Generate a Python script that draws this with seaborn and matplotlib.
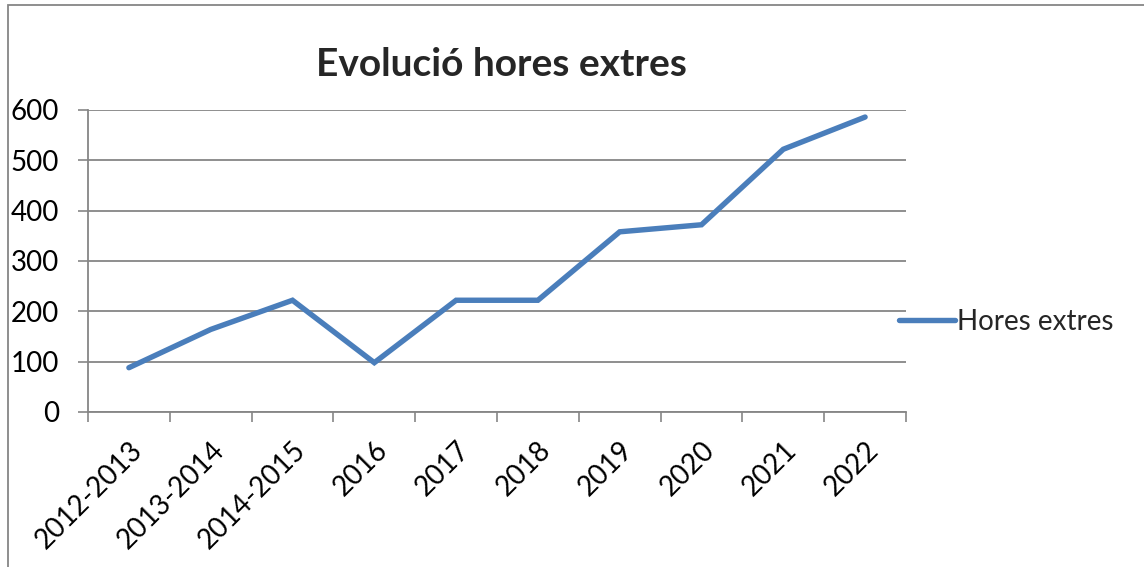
import numpy as np
import pandas as pd
import matplotlib.pyplot as plt
import seaborn as sns
from matplotlib.patches import Rectangle

# data
periods = ['2012-2013', '2013-2014', '2014-2015', '2016', '2017',
           '2018', '2019', '2020', '2021', '2022']
hores = [88, 164, 222, 98, 222, 222, 358, 372, 522, 586]
yticks = [0, 100, 200, 300, 400, 500, 600]

df = pd.DataFrame({'Periode': periods, 'Hores extres': hores})

sns.set_theme(style='white')
plt.rcParams['font.family'] = ['Lato', 'DejaVu Sans']

fig = plt.figure(figsize=(11.44, 5.67), dpi=100)
ax = fig.add_axes([88 / 1144, 1 - 412 / 567, (906 - 88) / 1144, (412 - 110) / 567])

grey = '#868686'
blue = '#4A7EBB'

sns.lineplot(data=df, x='Periode', y='Hores extres', ax=ax, color=blue,
             linewidth=3.9, sort=False, label='Hores extres',
             solid_capstyle='round', solid_joinstyle='miter')

ax.set_xlim(-0.5, len(periods) - 0.5)
ax.set_ylim(0, 600)
ax.set_yticks(yticks)
ax.set_yticklabels([str(v) for v in yticks], fontsize=20, color='black')
ax.set_xticks(range(len(periods)))
ax.set_xticklabels(periods, rotation=45, ha='right', rotation_mode='anchor',
                   fontsize=20, color='black')
ax.set_xticks(np.arange(-0.5, len(periods), 1.0), minor=True)
ax.tick_params(axis='x', which='major', length=0, pad=18)
ax.tick_params(axis='x', which='minor', length=7, width=1.2, color=grey, direction='out', bottom=True)
ax.tick_params(axis='y', length=7, width=1.2, color=grey, direction='out', left=True, pad=14)

ax.grid(axis='y', color=grey, linewidth=1.3)
ax.set_axisbelow(True)
for s in ['top', 'right']:
    ax.spines[s].set_visible(False)
for s in ['left', 'bottom']:
    ax.spines[s].set_color(grey)
    ax.spines[s].set_linewidth(1.3)
ax.set_xlabel('')
ax.set_ylabel('')

ax.legend(loc='center left', bbox_to_anchor=(888 / 1144, 1 - 322 / 567),
          bbox_transform=fig.transFigure, frameon=False, fontsize=20,
          handlelength=2.0, handletextpad=0.1, borderaxespad=0)

fig.text(501 / 1144, 1 - 64 / 567, 'Evolució hores extres', ha='center', va='center',
         fontsize=28, fontweight='bold')

# chart area border
fig.patches.append(Rectangle((8 / 1144, -0.01), 1.2, 1 - 5 / 567 + 0.01,
                             transform=fig.transFigure, fill=False,
                             edgecolor=grey, linewidth=1.3))

fig.savefig('out.png', dpi=100)
